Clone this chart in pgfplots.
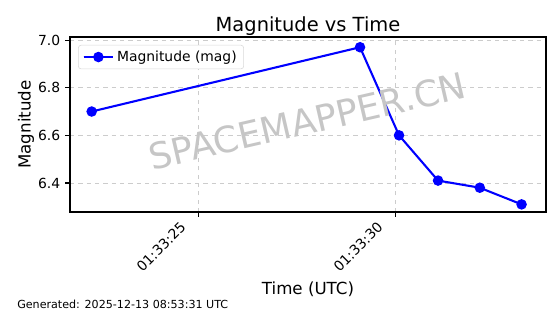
\documentclass[border=0pt]{standalone}
\usepackage{fontspec}
\setmainfont{DejaVu Sans}
\usepackage{pgfplots}
\pgfplotsset{compat=1.18}
\begin{document}
\begin{tikzpicture}[x=0.72pt,y=0.72pt]
\useasboundingbox (0,0) rectangle (560,314);
\begin{axis}[
  at={(70*0.72pt,102*0.72pt)}, anchor=south west,
  width=342.72pt, height=126pt, scale only axis,
  xmin=21.73, xmax=33.81, ymin=6.278, ymax=7.013,
  xtick={25,30}, xticklabels={01:33:25,01:33:30},
  xticklabel style={xshift=-14pt, rotate=45, anchor=north east, font=\fontsize{10}{12}\selectfont, inner sep=2pt},
  ytick={6.4,6.6,6.8,7.0},
  yticklabels={6.4,6.6,6.8,7.0},
  yticklabel style={font=\fontsize{10}{12}\selectfont},
  /pgf/number format/assume math mode=true,
  tick align=outside, tick pos=left,
  major tick length=3.5pt,
  every tick/.style={black, line width=0.8pt},
  axis line style={line width=0.8pt},
  grid=major,
  major grid style={dashed, gray!40, line width=0.6pt},
  title={Magnitude vs Time},
  title style={font=\fontsize{14}{16}\selectfont, yshift=-8.5pt},
  xlabel={Time (UTC)}, ylabel={Magnitude},
  xlabel style={font=\fontsize{12}{14}\selectfont},
  ylabel style={font=\fontsize{12}{14}\selectfont, yshift=-4pt},
  legend style={font=\fontsize{10}{12}\selectfont, draw=gray!30, rounded corners=2pt, at={(0.017,0.955)}, anchor=north west},
  legend image code/.code={\draw[#1] (0cm,0cm) -- (0.75cm,0cm); \draw[#1, mark repeat=2, mark phase=2] plot coordinates {(0cm,0cm) (0.375cm,0cm) (0.75cm,0cm)};},
  legend cell align=left,
  clip=false,
]
\addplot[blue, line width=1.5pt, mark=*, mark size=3pt, mark options={fill=blue}] coordinates {
 (22.28,6.70) (29.09,6.97) (30.08,6.60) (31.07,6.41) (32.13,6.38) (33.19,6.31)
};
\addlegendentry{Magnitude (mag)}
\node[rotate=13, text=gray!45, font=\fontsize{26}{30}\selectfont] at (axis cs:27.75,6.66) {SPACEMAPPER.CN};
\end{axis}
\node[anchor=base west, inner sep=0pt, font=\fontsize{8}{10}\selectfont] at (17,6) {Generated: 2025-12-13 08:53:31 UTC};
\end{tikzpicture}
\end{document}
